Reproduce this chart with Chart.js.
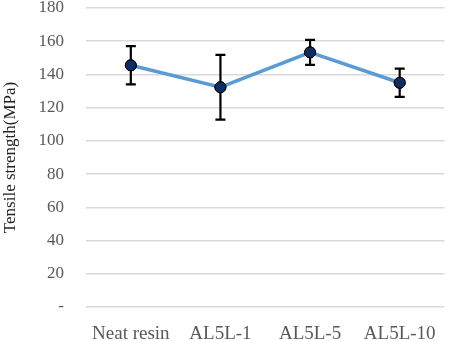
<!DOCTYPE html>
<html>
<head>
<meta charset="UTF-8" />
<script src="https://cdn.jsdelivr.net/npm/chart.js"></script>
<style>
  body { margin: 0; background: #fff; }
  #wrap { width: 451px; height: 341px; }
</style>
</head>
<body>
<div id="wrap"><canvas id="grafico" width="451" height="341"></canvas></div>
<script>
const categorias = ['Neat resin', 'AL5L-1', 'AL5L-5', 'AL5L-10'];
const resistencia = [145.5, 132.3, 153.3, 135];
const desvio = [11.5, 19.5, 7.5, 8.5];

// error bars drawn through the y scale
const barrasErro = {
  id: 'barrasErro',
  afterDatasetsDraw(chart) {
    const { ctx, scales: { x, y } } = chart;
    ctx.save();
    ctx.strokeStyle = '#000';
    ctx.lineWidth = 2.2;
    resistencia.forEach((v, i) => {
      const px = x.getPixelForValue(i);
      const top = y.getPixelForValue(v + desvio[i]);
      const bot = y.getPixelForValue(v - desvio[i]);
      ctx.beginPath();
      ctx.moveTo(px, top); ctx.lineTo(px, bot);
      ctx.moveTo(px - 5, top); ctx.lineTo(px + 5, top);
      ctx.moveTo(px - 5, bot); ctx.lineTo(px + 5, bot);
      ctx.stroke();
    });
    ctx.restore();
    // redraw points over the bars
    chart.getDatasetMeta(0).data.forEach(p => p.draw(ctx));
  }
};

new Chart(document.getElementById('grafico'), {
  type: 'line',
  data: {
    labels: categorias,
    datasets: [{
      data: resistencia,
      borderColor: '#5b9bd5',
      borderWidth: 3.5,
      pointBackgroundColor: '#0f2d63',
      pointBorderColor: '#000',
      pointBorderWidth: 1,
      pointRadius: 5.5,
      tension: 0
    }]
  },
  options: {
    responsive: false,
    animation: false,
    layout: { padding: { top: 8, right: 5, left: 0, bottom: 0 } },
    plugins: { legend: { display: false }, tooltip: { enabled: false } },
    scales: {
      x: {
        offset: true,
        grid: { display: false },
        border: { display: false },
        ticks: { color: '#595959', font: { family: 'Liberation Serif', size: 19 }, padding: 8, maxRotation: 0, autoSkip: false },
        afterFit: s => { s.height = 34; s.paddingLeft = 0; s.paddingRight = 0; }
      },
      y: {
        min: 0, max: 180,
        ticks: {
          stepSize: 20,
          color: '#595959',
          font: { family: 'Liberation Serif', size: 17 },
          padding: 22,
          callback: v => v === 0 ? '-' : v
        },
        grid: { color: '#d9d9d9', lineWidth: 1.5, drawTicks: false },
        border: { display: false },
        title: { display: true, text: 'Tensile strength(MPa)', color: '#222', font: { family: 'Liberation Serif', size: 17 }, padding: 0 },
        afterFit: s => { s.width = 86; s.paddingTop = 0; s.paddingBottom = 0; }
      }
    }
  },
  plugins: [barrasErro]
});
</script>
</body>
</html>
